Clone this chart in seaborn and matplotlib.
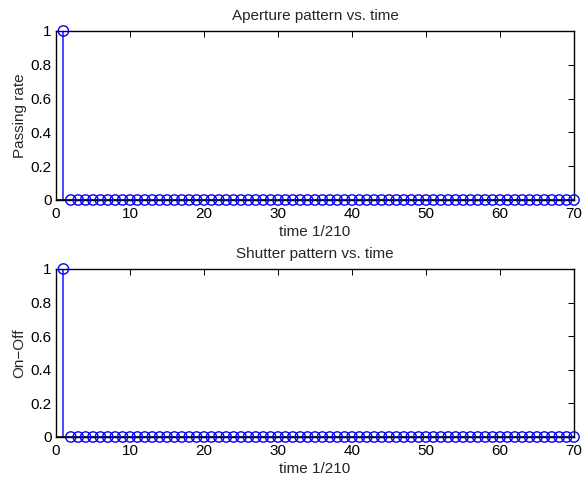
import numpy as np
import pandas as pd
import seaborn as sns
import matplotlib.pyplot as plt

# data
time_steps = list(range(1, 71))
aperture = [1] + [0] * 69
shutter = [1] + [0] * 69

titles = ["Aperture pattern vs. time", "Shutter pattern vs. time"]
ylabels = ["Passing rate", "On\u2212Off"]
xlabel = "time 1/210"
xticks = [0, 10, 20, 30, 40, 50, 60, 70]
yticks = [0, 0.2, 0.4, 0.6, 0.8, 1]

sns.set_theme(style="white")
plt.rcParams["font.family"] = ["Liberation Sans", "DejaVu Sans"]

fig = plt.figure(figsize=(5.84, 4.78), dpi=100)
ax_top = fig.add_axes([0.0959, 0.5816, 0.887, 0.3536])
ax_bot = fig.add_axes([0.0959, 0.0858, 0.887, 0.3515])

for ax, values, title, ylab in zip([ax_top, ax_bot], [aperture, shutter], titles, ylabels):
    df = pd.DataFrame({"t": time_steps, "v": values})
    ax.vlines(df["t"], 0, df["v"], colors="#2b2bff", lw=1.2, zorder=2)
    ax.axhline(0, color="black", lw=1.2, zorder=3)
    sns.scatterplot(data=df, x="t", y="v", ax=ax, marker="o", s=55,
                    facecolors="none", edgecolor="blue", linewidth=1.0,
                    zorder=4, clip_on=False)
    ax.set_xlim(0, 70)
    ax.set_ylim(0, 1)
    ax.set_xticks(xticks)
    ax.set_yticks(yticks)
    ax.set_yticklabels(["0", "0.2", "0.4", "0.6", "0.8", "1"])
    ax.tick_params(direction="in", length=4, width=0.7, top=True, right=True,
                   labelsize=11, colors="black")
    ax.tick_params(axis="x", pad=5)
    ax.tick_params(axis="y", pad=3)
    for s in ax.spines.values():
        s.set_color("black")
        s.set_linewidth(1.0)
    ax.set_title(title, fontsize=11, pad=8)
    ax.set_xlabel(xlabel, fontsize=11, labelpad=3)
    ax.set_ylabel(ylab, fontsize=11, labelpad=3)
    ax.set_facecolor("white")

fig.savefig("out.png", dpi=100, facecolor="white")
